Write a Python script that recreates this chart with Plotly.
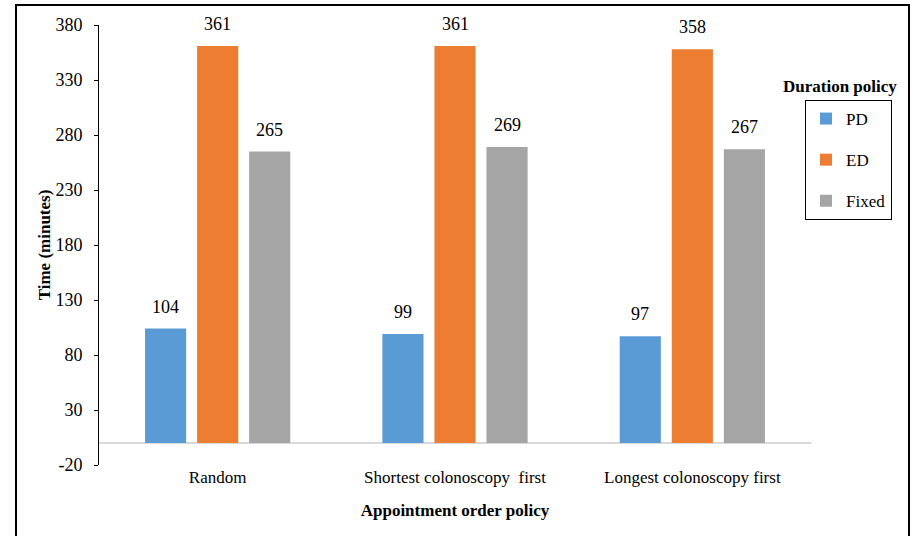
import plotly.graph_objects as go

categories = ["Random", "Shortest colonoscopy  first", "Longest colonoscopy first"]
series_names = ["PD", "ED", "Fixed"]
pd_values = [104, 99, 97]
ed_values = [361, 361, 358]
fixed_values = [265, 269, 267]
colors = ["#5B9BD5", "#ED7D31", "#A5A5A5"]
y_ticks = [-20, 30, 80, 130, 180, 230, 280, 330, 380]
y_tick_labels = ["-20", "30", "80", "130", "180", "230", "280", "330", "380"]

FONT = "Liberation Serif"
BAR_PITCH_PX = 52

fig = go.Figure()
annotations = []
all_series = [pd_values, ed_values, fixed_values]
for i, (name, vals) in enumerate(zip(series_names, all_series)):
    fig.add_trace(go.Bar(
        x=categories, y=vals, name=name,
        marker=dict(color=colors[i], line=dict(width=0)),
        cliponaxis=False, legendgroup=name,
    ))
    for cat, v in zip(categories, vals):
        annotations.append(dict(
            x=cat, y=v, xref="x", yref="y", text=str(v), showarrow=False,
            xanchor="center", yanchor="middle",
            xshift=(i - 1) * BAR_PITCH_PX, yshift=22,
            font=dict(family=FONT, size=18, color="#000000"),
        ))

L, R, T, B = 99, 102, 25, 71
W, H = 913, 536
pw, ph = W - L - R, H - T - B

def px_x(x):
    return (x - L) / pw

def px_y(y):
    return (H - B - y) / ph

annotations.append(dict(
    text="<b>Duration policy</b>", xref="paper", yref="paper",
    x=px_x(840), y=px_y(86), xanchor="center", yanchor="middle",
    showarrow=False, font=dict(family=FONT, size=17),
))

fig.update_layout(
    width=W, height=H,
    margin=dict(l=L, r=R, t=T, b=B, pad=0),
    paper_bgcolor="white", plot_bgcolor="white",
    barmode="group", bargap=0.342, bargroupgap=0.21,
    font=dict(family=FONT, size=16, color="#000000"),
    showlegend=True,
    legend=dict(
        x=px_x(805), y=px_y(100), xanchor="left", yanchor="top",
        bordercolor="#000000", borderwidth=1, bgcolor="white",
        font=dict(family=FONT, size=17),
        traceorder="grouped", tracegroupgap=16, itemwidth=30,
    ),
    xaxis=dict(
        showline=False, showgrid=False, ticks="", zeroline=False,
        tickfont=dict(family=FONT, size=17),
        title=dict(text="<b>Appointment order policy</b>", font=dict(family=FONT, size=17), standoff=18),
    ),
    yaxis=dict(
        range=[-20, 380], tickvals=y_ticks, ticktext=y_tick_labels, showgrid=False,
        showline=True, linecolor="#000000", linewidth=1,
        ticks="outside", ticklen=4, tickcolor="#000000", ticklabelstandoff=8,
        zeroline=True, zerolinecolor="#D9D9D9", zerolinewidth=1.5,
        tickfont=dict(family=FONT, size=18),
        title=dict(text="<b>Time (minutes)</b>", font=dict(family=FONT, size=17), standoff=0),
    ),
    annotations=annotations,
    shapes=[dict(
        type="rect", xref="paper", yref="paper",
        x0=px_x(16), x1=px_x(909), y0=px_y(545), y1=px_y(5),
        line=dict(color="#000000", width=2), layer="below",
    )],
)

fig.write_html("out.html")
